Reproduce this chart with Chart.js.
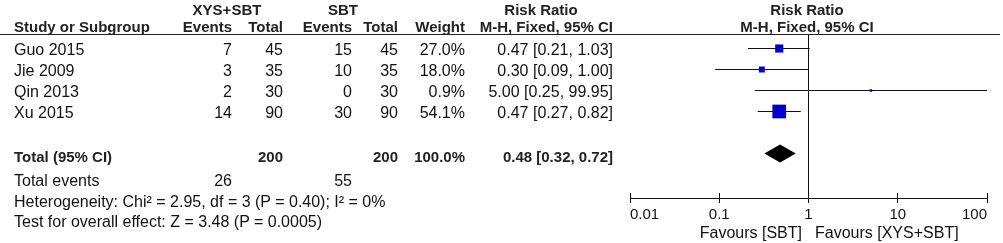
<!DOCTYPE html>
<html>
<head>
<meta charset="utf-8">
<script src="https://cdn.jsdelivr.net/npm/chart.js@4.4.1/dist/chart.umd.min.js"></script>
<style>
  html, body { margin: 0; padding: 0; background: #fff; }
  #wrap { position: relative; width: 1003px; height: 243px; overflow: hidden;
          font-family: "Liberation Sans", Arial, sans-serif; font-size: 16px; color: #111; }
  #plot { position: absolute; left: 0; top: 0; }
  .t { position: absolute; line-height: 18px; white-space: nowrap; }
  .b { font-weight: bold; font-size: 15px; color: #222; }
  #rule { position: absolute; left: 0; top: 34px; width: 1000px; height: 1px; background: #222; }
</style>
</head>
<body>
<div id="wrap">
  <canvas id="plot" width="1003" height="243"></canvas>
  <div id="rule"></div>
</div>
<script>
/* ---- data ---- */
const studies   = ['Guo 2015', 'Jie 2009', 'Qin 2013', 'Xu 2015'];
const expEvents = [7, 3, 2, 14];
const expTotal  = [45, 35, 30, 90];
const ctlEvents = [15, 10, 0, 30];
const ctlTotal  = [45, 35, 30, 90];
const weights   = [27.0, 18.0, 0.9, 54.1];
const rr        = [0.47, 0.30, 5.00, 0.47];
const rrLow     = [0.21, 0.09, 0.25, 0.27];
const rrHigh    = [1.03, 1.00, 99.95, 0.82];
const pooled    = [0.48, 0.32, 0.72];   // estimate, lower, upper
const axisTicks = [0.01, 0.1, 1, 10, 100];
const heterogeneity = 'Heterogeneity: Chi\u00b2 = 2.95, df = 3 (P = 0.40); I\u00b2 = 0%';
const overallTest   = 'Test for overall effect: Z = 3.48 (P = 0.0005)';
const favours   = ['Favours [SBT]', 'Favours [XYS+SBT]'];

const sum = a => a.reduce((s, v) => s + v, 0);
const f2 = v => v.toFixed(2);

/* ---- table text ---- */
const wrap = document.getElementById('wrap');
function put(text, x, yc, align, bold) {
  const d = document.createElement('div');
  d.className = 't' + (bold ? ' b' : '');
  d.textContent = text;
  d.style.top = (yc - 9) + 'px';
  if (align === 'right') { d.style.left = (x - 400) + 'px'; d.style.width = '400px'; d.style.textAlign = 'right'; }
  else if (align === 'center') { d.style.left = (x - 200) + 'px'; d.style.width = '400px'; d.style.textAlign = 'center'; }
  else d.style.left = x + 'px';
  wrap.appendChild(d);
}

const colX = { name: 14, ee: 232, et: 283, ce: 352, ct: 398, w: 465, ci: 613 };
const rowY = [49.5, 70.5, 91.5, 112.5];

// headers
put('XYS+SBT', 227, 10, 'center', true);
put('SBT', 343, 10, 'center', true);
put('Risk Ratio', 541, 10, 'center', true);
put('Risk Ratio', 807, 10, 'center', true);
put('Study or Subgroup', colX.name, 27, 'left', true);
put('Events', colX.ee, 27, 'right', true);
put('Total', colX.et, 27, 'right', true);
put('Events', colX.ce, 27, 'right', true);
put('Total', colX.ct, 27, 'right', true);
put('Weight', colX.w, 27, 'right', true);
put('M-H, Fixed, 95% CI', colX.ci, 27, 'right', true);
put('M-H, Fixed, 95% CI', 807, 27, 'center', true);

studies.forEach((s, i) => {
  const y = rowY[i];
  put(s, colX.name, y, 'left');
  put(String(expEvents[i]), colX.ee, y, 'right');
  put(String(expTotal[i]), colX.et, y, 'right');
  put(String(ctlEvents[i]), colX.ce, y, 'right');
  put(String(ctlTotal[i]), colX.ct, y, 'right');
  put(weights[i].toFixed(1) + '%', colX.w, y, 'right');
  put(f2(rr[i]) + ' [' + f2(rrLow[i]) + ', ' + f2(rrHigh[i]) + ']', colX.ci, y, 'right');
});

put('Total (95% CI)', colX.name, 157, 'left', true);
put(String(sum(expTotal)), colX.et, 157, 'right', true);
put(String(sum(ctlTotal)), colX.ct, 157, 'right', true);
put(sum(weights).toFixed(1) + '%', colX.w, 157, 'right', true);
put(f2(pooled[0]) + ' [' + f2(pooled[1]) + ', ' + f2(pooled[2]) + ']', colX.ci, 157, 'right', true);
put('Total events', colX.name, 181, 'left');
put(String(sum(expEvents)), colX.ee, 181, 'right');
put(String(sum(ctlEvents)), colX.ce, 181, 'right');
put(heterogeneity, colX.name, 201.5, 'left');
put(overallTest, colX.name, 221.5, 'left');
put(favours[0], 802, 233, 'right');
put(favours[1], 815, 233, 'left');

/* ---- forest plot ---- */
const BLUE = '#0000cc';
const TOTAL_ROW = 5;

// upward half of the axis ticks + pooled diamond
const forestExtras = {
  id: 'forestExtras',
  afterDatasetsDraw(chart) {
    const { ctx, scales: { x, y } } = chart;
    const yc = y.getPixelForValue(TOTAL_ROW);
    const xl = x.getPixelForValue(pooled[1]);
    const xm = x.getPixelForValue(pooled[0]);
    const xr = x.getPixelForValue(pooled[2]);
    ctx.save();
    ctx.fillStyle = '#000';
    ctx.beginPath();
    ctx.moveTo(xl, yc);
    ctx.lineTo(xm, yc - 9);
    ctx.lineTo(xr, yc);
    ctx.lineTo(xm, yc + 9);
    ctx.closePath();
    ctx.fill();
    ctx.restore();
  },
  afterDraw(chart) {
    const { ctx, chartArea, scales: { x } } = chart;
    ctx.save();
    ctx.strokeStyle = '#111';
    ctx.lineWidth = 1;
    ctx.beginPath();
    axisTicks.forEach(v => {
      const px = Math.round(x.getPixelForValue(v) - 0.5) + 0.5;
      ctx.moveTo(px, chartArea.bottom - 5);
      ctx.lineTo(px, chartArea.bottom);
    });
    ctx.stroke();
    ctx.restore();
  }
};

const ciSets = studies.map((s, i) => ({
  label: s + ' CI',
  data: [{ x: rrLow[i], y: i }, { x: rrHigh[i], y: i }],
  showLine: true,
  borderColor: '#111',
  borderWidth: 1,
  pointRadius: 0,
  order: 2
}));

new Chart(document.getElementById('plot'), {
  type: 'scatter',
  data: {
    datasets: [{
      label: 'Risk ratio',
      data: studies.map((s, i) => ({ x: rr[i], y: i })),
      pointStyle: 'rect',
      backgroundColor: BLUE,
      borderWidth: 0,
      // square side grows with study weight
      pointRadius: weights.map(w => Math.max(2.5, 13.7 * Math.pow(w / 54.1, 0.75)) / Math.SQRT2),
      order: 1
    }, ...ciSets]
  },
  options: {
    responsive: false,
    animation: false,
    events: [],
    layout: { padding: { left: 630, right: 16, top: 34, bottom: 0 } },
    plugins: { legend: { display: false }, tooltip: { enabled: false } },
    scales: {
      x: {
        type: 'logarithmic',
        min: 0.01,
        max: 100,
        afterBuildTicks: s => { s.ticks = axisTicks.map(v => ({ value: v })); },
        afterFit: s => { s.height = 45; },
        ticks: {
          align: 'inner',
          autoSkip: false,
          maxRotation: 0,
          padding: 3,
          color: '#111',
          font: { family: '"Liberation Sans", Arial, sans-serif', size: 15 },
          callback: v => String(v)
        },
        grid: {
          color: c => (c.tick && c.tick.value === 1) ? '#111' : 'rgba(0,0,0,0)',
          tickColor: '#111',
          tickLength: 5,
          lineWidth: 1
        },
        border: { display: true, color: '#111', width: 1 }
      },
      y: {
        display: false,
        reverse: true,
        min: -0.6905,
        max: 7.119
      }
    }
  },
  plugins: [forestExtras]
});
</script>
</body>
</html>
